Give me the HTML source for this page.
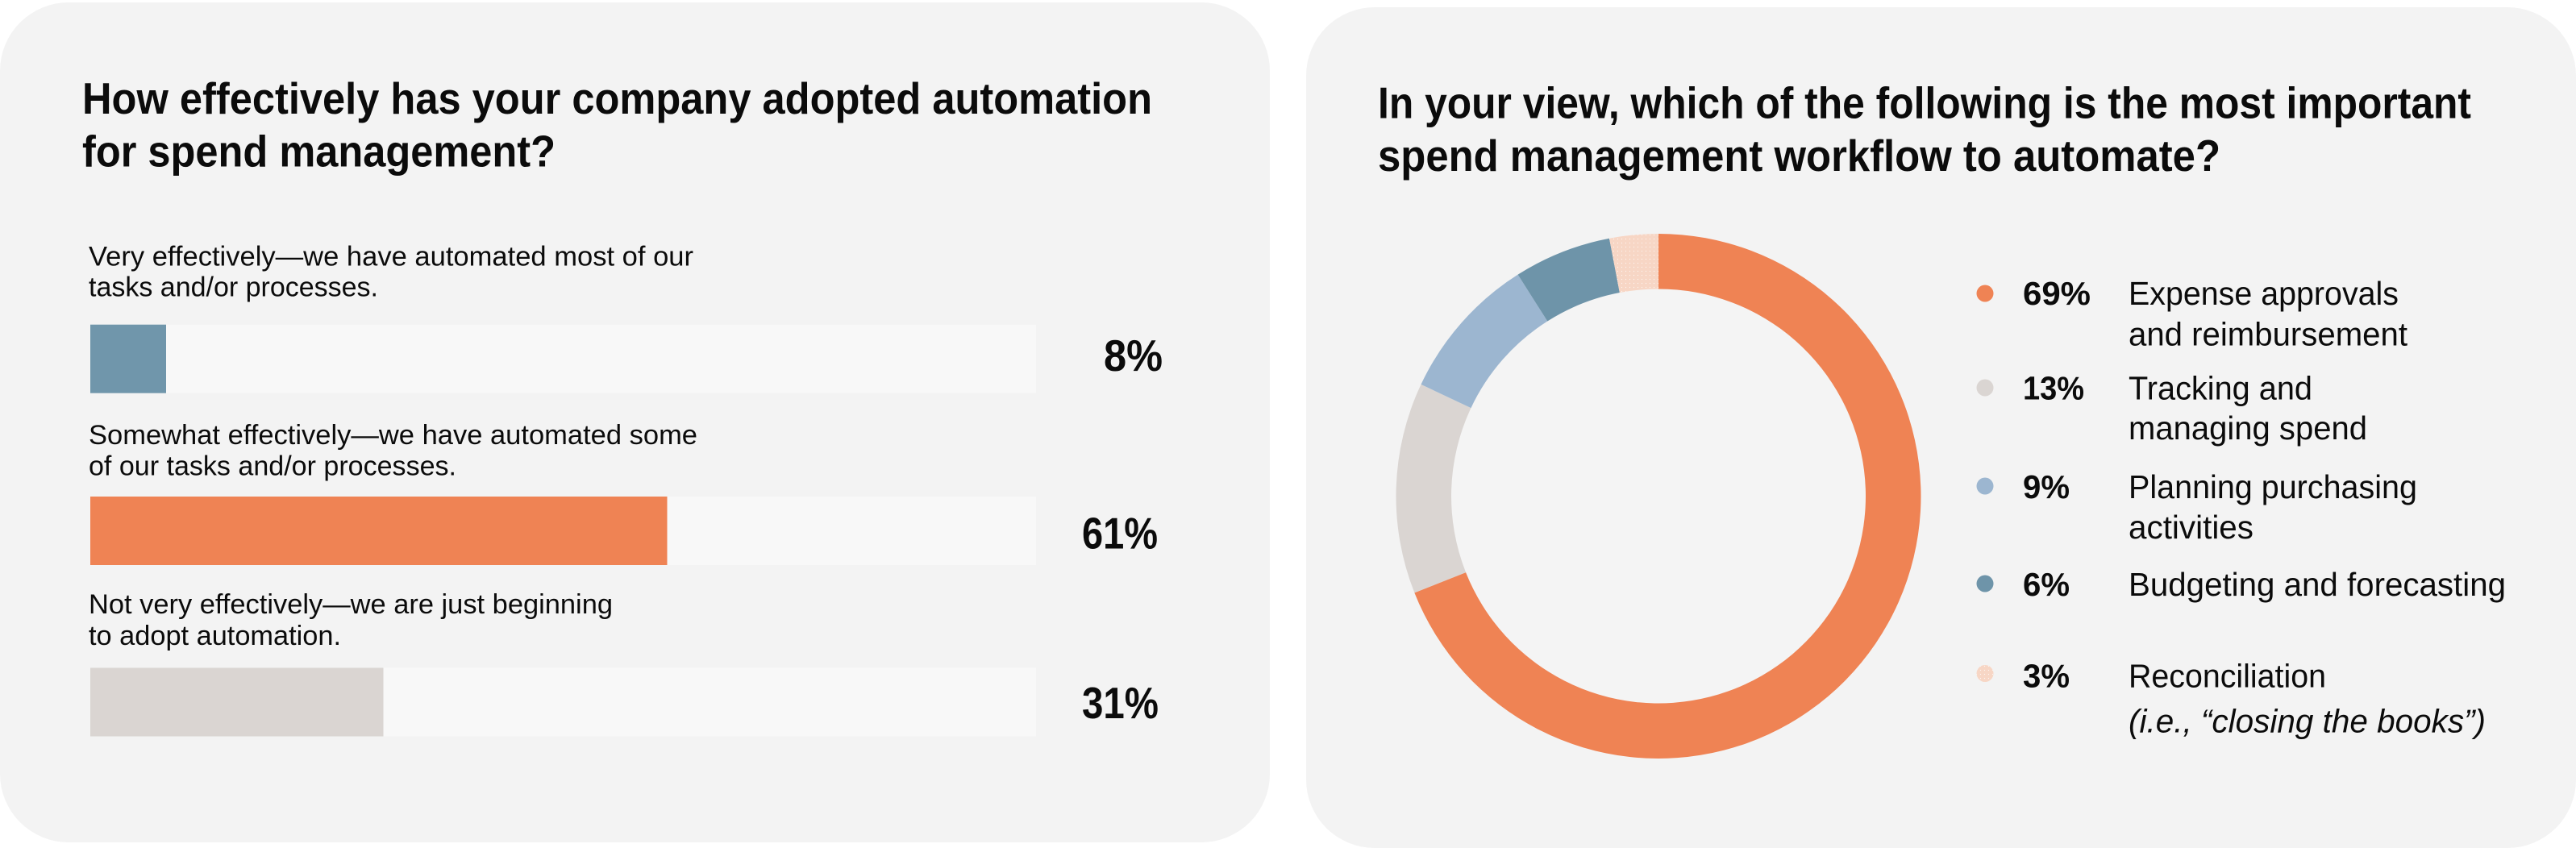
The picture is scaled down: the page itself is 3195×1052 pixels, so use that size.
<!DOCTYPE html>
<html>
<head>
<meta charset="utf-8">
<style>
  html, body { margin: 0; padding: 0; background: #ffffff; }
  body { width: 3195px; height: 1052px; overflow: hidden; }
  svg { display: block; }
  text { font-family: "Liberation Sans", Arial, sans-serif; fill: #0b0b0b; }
  .title { font-size: 55px; font-weight: 700; }
  .lbl { font-size: 34px; font-weight: 400; }
  .pct { font-size: 55px; font-weight: 700; }
  .lpct { font-size: 41px; font-weight: 700; }
  .ltxt { font-size: 41px; font-weight: 400; }
</style>
</head>
<body>
<svg width="3195" height="1052" viewBox="0 0 3195 1052" xmlns="http://www.w3.org/2000/svg">
  <defs>
    <pattern id="dots" x="0" y="0" width="5" height="5" patternUnits="userSpaceOnUse">
      <rect x="0" y="0" width="5" height="5" fill="#F7D6C5"/>
      <circle cx="1.5" cy="1.5" r="0.6" fill="#ffffff" opacity="0.8"/>
    </pattern>
  </defs>

  <!-- Left card -->
  <rect x="0" y="3" width="1575" height="1042" rx="85" ry="85" fill="#F3F3F3"/>

  <text class="title" x="102" y="141" textLength="1327" lengthAdjust="spacingAndGlyphs">How effectively has your company adopted automation</text>
  <text class="title" x="102" y="206.7" textLength="587" lengthAdjust="spacingAndGlyphs">for spend management?</text>

  <text class="lbl" x="110" y="329.3" textLength="750" lengthAdjust="spacingAndGlyphs">Very effectively—we have automated most of our</text>
  <text class="lbl" x="110" y="367.3" textLength="359" lengthAdjust="spacingAndGlyphs">tasks and/or processes.</text>
  <rect x="112" y="402.7" width="1173" height="85" fill="#F8F8F8"/>
  <rect x="112" y="402.7" width="94" height="85" fill="#7096AB"/>
  <text class="pct" x="1369" y="460" textLength="73" lengthAdjust="spacingAndGlyphs">8%</text>

  <text class="lbl" x="110" y="551" textLength="755" lengthAdjust="spacingAndGlyphs">Somewhat effectively—we have automated some</text>
  <text class="lbl" x="110" y="589.5" textLength="456" lengthAdjust="spacingAndGlyphs">of our tasks and/or processes.</text>
  <rect x="112" y="616" width="1173" height="85" fill="#F8F8F8"/>
  <rect x="112" y="616" width="715.5" height="85" fill="#EF8354"/>
  <text class="pct" x="1342" y="680.7" textLength="94" lengthAdjust="spacingAndGlyphs">61%</text>

  <text class="lbl" x="110" y="761" textLength="650" lengthAdjust="spacingAndGlyphs">Not very effectively—we are just beginning</text>
  <text class="lbl" x="110" y="800" textLength="313" lengthAdjust="spacingAndGlyphs">to adopt automation.</text>
  <rect x="112" y="828.5" width="1173" height="85" fill="#F8F8F8"/>
  <rect x="112" y="828.5" width="363.5" height="85" fill="#DAD5D2"/>
  <text class="pct" x="1342" y="891" textLength="95" lengthAdjust="spacingAndGlyphs">31%</text>

  <!-- Right card -->
  <rect x="1620" y="9" width="1575" height="1043" rx="85" ry="85" fill="#F3F3F3"/>

  <text class="title" x="1709" y="146.6" textLength="1356" lengthAdjust="spacingAndGlyphs">In your view, which of the following is the most important</text>
  <text class="title" x="1709" y="212" textLength="1045" lengthAdjust="spacingAndGlyphs">spend management workflow to automate?</text>

  <!-- Donut -->
  <circle cx="2057" cy="615.5" r="257" fill="#F4F4F4"/>
  <path d="M 2057 290 A 325.5 325.5 0 1 1 1754.36 735.32 L 1818.05 710.11 A 257 257 0 1 0 2057 358.5 Z" fill="#EF8354"/>
  <path d="M 1754.36 735.32 A 325.5 325.5 0 0 1 1762.48 476.91 L 1824.46 506.07 A 257 257 0 0 0 1818.05 710.11 Z" fill="#DAD5D2"/>
  <path d="M 1762.48 476.91 A 325.5 325.5 0 0 1 1882.59 340.67 L 1919.29 398.51 A 257 257 0 0 0 1824.46 506.07 Z" fill="#9CB6D0"/>
  <path d="M 1882.59 340.67 A 325.5 325.5 0 0 1 1996.01 295.76 L 2008.84 363.05 A 257 257 0 0 0 1919.29 398.51 Z" fill="#6E94A9"/>
  <path d="M 1996.01 295.76 A 325.5 325.5 0 0 1 2057 290 L 2057 358.5 A 257 257 0 0 0 2008.84 363.05 Z" fill="url(#dots)"/>

  <!-- Legend -->
  <circle cx="2462" cy="364" r="10.5" fill="#EF8354"/>
  <text class="lpct" x="2509" y="378" textLength="84" lengthAdjust="spacingAndGlyphs">69%</text>
  <text class="ltxt" x="2640" y="378" textLength="335" lengthAdjust="spacingAndGlyphs">Expense approvals</text>
  <text class="ltxt" x="2640" y="428.5" textLength="346" lengthAdjust="spacingAndGlyphs">and reimbursement</text>

  <circle cx="2462" cy="481" r="10.5" fill="#DAD5D2"/>
  <text class="lpct" x="2509" y="495.5" textLength="76" lengthAdjust="spacingAndGlyphs">13%</text>
  <text class="ltxt" x="2640" y="495.5" textLength="228" lengthAdjust="spacingAndGlyphs">Tracking and</text>
  <text class="ltxt" x="2640" y="545" textLength="296" lengthAdjust="spacingAndGlyphs">managing spend</text>

  <circle cx="2462" cy="603" r="10.5" fill="#9CB6D0"/>
  <text class="lpct" x="2509" y="618" textLength="58" lengthAdjust="spacingAndGlyphs">9%</text>
  <text class="ltxt" x="2640" y="618" textLength="358" lengthAdjust="spacingAndGlyphs">Planning purchasing</text>
  <text class="ltxt" x="2640" y="668" textLength="155" lengthAdjust="spacingAndGlyphs">activities</text>

  <circle cx="2462" cy="724" r="10.5" fill="#6E94A9"/>
  <text class="lpct" x="2509" y="739" textLength="58" lengthAdjust="spacingAndGlyphs">6%</text>
  <text class="ltxt" x="2640" y="739" textLength="468" lengthAdjust="spacingAndGlyphs">Budgeting and forecasting</text>

  <circle cx="2462" cy="835.5" r="10.5" fill="url(#dots)"/>
  <text class="lpct" x="2509" y="852.5" textLength="58" lengthAdjust="spacingAndGlyphs">3%</text>
  <text class="ltxt" x="2640" y="852.5" textLength="245" lengthAdjust="spacingAndGlyphs">Reconciliation</text>
  <text class="ltxt" x="2640" y="908.3" textLength="443" lengthAdjust="spacingAndGlyphs" font-style="italic">(i.e., “closing the books”)</text>
</svg>
</body>
</html>
